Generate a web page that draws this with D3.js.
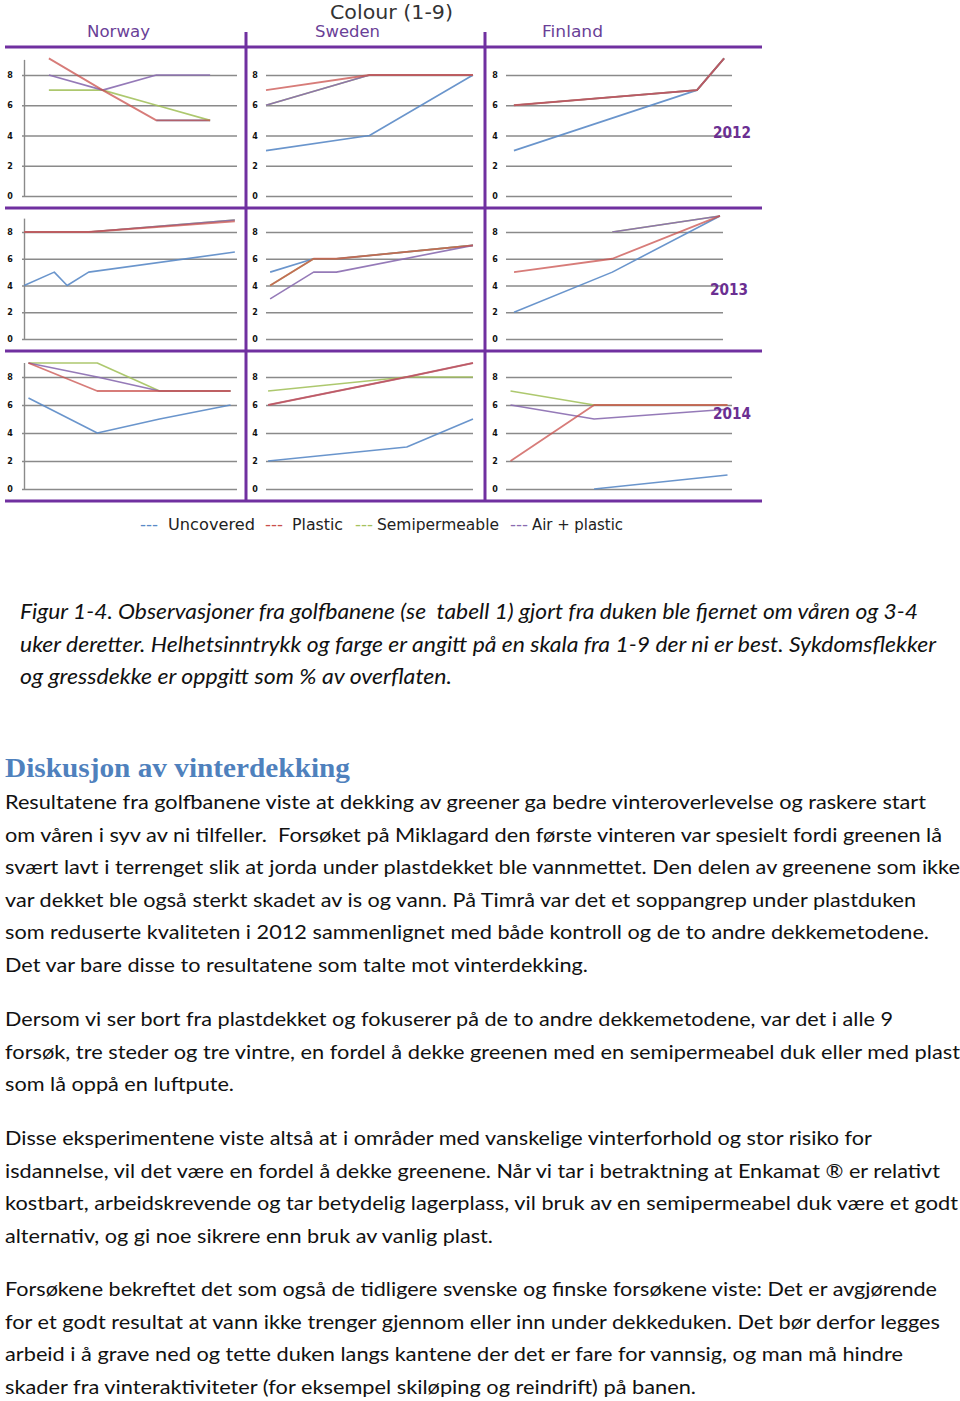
<!DOCTYPE html>
<html><head><meta charset="utf-8">
<script src="https://cdn.jsdelivr.net/npm/d3@7"></script>
<style>body{margin:0;background:#fff}svg{display:block}</style>
</head><body><svg id="c" width="960" height="1401"></svg>
<script>
// ---------------- DATA ----------------
const countries = ["Norway", "Sweden", "Finland"];
const years = ["2012", "2013", "2014"];
const seriesNames = ["Uncovered", "Plastic", "Semipermeable", "Air + plastic"];
const yTicks = [0, 2, 4, 6, 8];
const chartTitle = "Colour (1-9)";
// observation times (relative position in the season, 0-100) per [year][country]
const obsTimes = [
  [[12.5, 37.5, 62.5, 87.5], [0, 50, 100], [3.5, 84.5, 96.5]],
  [[1, 15, 21, 31, 99], [2, 23, 34, 100], [3.7, 49, 98.6]],
  [[3, 35, 64, 97], [1, 68, 100], [2, 39, 98]]
];
const uncovered = [
  [[null, null, 5, 5], [3, 4, 8], [3, 7, 9.1]],
  [[4, 5, 4, 5, 6.5], [5, 6, 6, 7], [2, 5, 9.2]],
  [[6.5, 4, 5, 6], [2, 3, 5], [null, 0, 1]]
];
const plastic = [
  [[9.1, 7, 5, 5], [7, 8, 8], [6, 7, 9.1]],
  [[8, 8, 8, 8, 8.8], [4, 6, 6, 7], [5, 6, 9.2]],
  [[9, 7, 7, 7], [6, 8, 9], [2, 6, 6]]
];
const semipermeable = [
  [[7, 7, 6, 5], [6, 8, 8], [6, 7, 9.1]],
  [[8, 8, 8, 8, 8.9], [4, 6, 6, 7], [null, 8, 9.2]],
  [[9, 9, 7, 7], [7, 8, 8], [7, 6, 6]]
];
const airPlastic = [
  [[8, 7, 8, 8], [6, 8, 8], [6, 7, 9.1]],
  [[8, 8, 8, 8, 8.9], [3, 5, 5, 7], [null, 8, 9.2]],
  [[9, 8, 7, 7], [6, 8, 9], [6, 5, 5.7]]
];
const captionLines = [
  "Figur 1-4. Observasjoner fra golfbanene (se  tabell 1) gjort fra duken ble fjernet om våren og 3-4",
  "uker deretter. Helhetsinntrykk og farge er angitt på en skala fra 1-9 der ni er best. Sykdomsflekker",
  "og gressdekke er oppgitt som % av overflaten."
];
const heading = "Diskusjon av vinterdekking";
const bodyParagraphs = [
  ["Resultatene fra golfbanene viste at dekking av greener ga bedre vinteroverlevelse og raskere start",
   "om våren i syv av ni tilfeller.  Forsøket på Miklagard den første vinteren var spesielt fordi greenen lå",
   "svært lavt i terrenget slik at jorda under plastdekket ble vannmettet. Den delen av greenene som ikke",
   "var dekket ble også sterkt skadet av is og vann. På Timrå var det et soppangrep under plastduken",
   "som reduserte kvaliteten i 2012 sammenlignet med både kontroll og de to andre dekkemetodene.",
   "Det var bare disse to resultatene som talte mot vinterdekking."],
  ["Dersom vi ser bort fra plastdekket og fokuserer på de to andre dekkemetodene, var det i alle 9",
   "forsøk, tre steder og tre vintre, en fordel å dekke greenen med en semipermeabel duk eller med plast",
   "som lå oppå en luftpute."],
  ["Disse eksperimentene viste altså at i områder med vanskelige vinterforhold og stor risiko for",
   "isdannelse, vil det være en fordel å dekke greenene. Når vi tar i betraktning at Enkamat ® er relativt",
   "kostbart, arbeidskrevende og tar betydelig lagerplass, vil bruk av en semipermeabel duk være et godt",
   "alternativ, og gi noe sikrere enn bruk av vanlig plast."],
  ["Forsøkene bekreftet det som også de tidligere svenske og finske forsøkene viste: Det er avgjørende",
   "for et godt resultat at vann ikke trenger gjennom eller inn under dekkeduken. Det bør derfor legges",
   "arbeid i å grave ned og tette duken langs kantene der det er fare for vannsig, og man må hindre",
   "skader fra vinteraktiviteter (for eksempel skiløping og reindrift) på banen."]
];

// ---------------- LAYOUT ----------------
const svg = d3.select("#c");
const purple = "#7030A0";
const seriesColors = ["#5A8AC6", "#C9504C", "#A4C25E", "#8A6BB0"];
const allSeries = [uncovered, plastic, semipermeable, airPlastic];
const drawOrder = [0, 2, 3, 1];

const cols = [
  {x0: 22, x1: 237, lab: 10, axis: true},
  {x0: 266, x1: 473, lab: 255, axis: false},
  {x0: 506, x1: 732, lab: 495, axis: false}
];
const rows = [
  {y0: 196, y8: 75},
  {y0: 339, y8: 232},
  {y0: 489, y8: 377}
];

years.forEach((yr, ri) => {
  countries.forEach((ct, ci) => {
    const c = cols[ci], r = rows[ri];
    const x1 = (ri === 1 && ci === 2) ? 723 : c.x1;
    const x = d3.scaleLinear().domain([0, 100]).range([c.x0, x1]);
    const y = d3.scaleLinear().domain([0, 8]).range([r.y0, r.y8]);
    const g = svg.append("g");
    const ax = d3.axisLeft(y).tickValues(yTicks).tickSize(-(x1 - c.x0)).tickFormat(d3.format("d"));
    const ga = g.append("g").attr("transform", `translate(${c.x0},0)`).call(ax);
    ga.select(".domain").remove();
    ga.selectAll(".tick line").attr("stroke", "#8a8a8a").attr("stroke-width", 1.4);
    ga.selectAll(".tick text").attr("x", c.lab - c.x0).attr("text-anchor", "middle")
      .attr("font-family", "DejaVu Sans").attr("font-weight", "bold").attr("font-size", 8)
      .attr("fill", "#111");
    if (c.axis) {
      g.append("line").attr("x1", c.x0 + 2.5).attr("x2", c.x0 + 2.5)
        .attr("y1", y(0)).attr("y2", y(9)).attr("stroke", "#8a8a8a").attr("stroke-width", 1.4);
    }
    const t = obsTimes[ri][ci];
    drawOrder.forEach(si => {
      const vals = allSeries[si][ri][ci];
      const pts = vals.map((v, i) => ({t: t[i], v}));
      const line = d3.line().defined(d => d.v != null).x(d => x(d.t)).y(d => y(d.v));
      g.append("path").datum(pts).attr("d", line).attr("fill", "none")
        .attr("stroke", seriesColors[si]).attr("stroke-width", si === 1 ? 1.8 : 1.6)
        .attr("stroke-opacity", si === 1 ? 0.75 : 0.9)
        .attr("stroke-linejoin", "round");
    });
  });
});

// purple frame lines
const hLines = [47, 208, 351, 501];
hLines.forEach(yy => svg.append("line").attr("x1", 5).attr("x2", 762).attr("y1", yy).attr("y2", yy)
  .attr("stroke", purple).attr("stroke-width", 3));
[246, 485].forEach(xx => svg.append("line").attr("x1", xx).attr("x2", xx).attr("y1", 32).attr("y2", 502)
  .attr("stroke", purple).attr("stroke-width", 3));

function txt(s, x, yb, opts) {
  const t = svg.append("text").attr("x", x).attr("y", yb).text(s)
    .attr("font-family", opts.family).attr("font-size", opts.size)
    .attr("fill", opts.fill || "#000")
    .style("white-space", "pre").attr("xml:space", "preserve");
  if (opts.weight) t.attr("font-weight", opts.weight);
  if (opts.style) t.attr("font-style", opts.style);
  if (opts.width) t.attr("textLength", opts.width).attr("lengthAdjust", "spacingAndGlyphs");
  return t;
}

// titles
txt(chartTitle, 330, 19, {family: "DejaVu Sans", size: 19, fill: "#333", width: 123});
const countryPos = [[87, 63], [315, 65], [542, 61]];
countries.forEach((ct, i) => txt(ct, countryPos[i][0], 37, {family: "DejaVu Sans", size: 15, fill: "#6A3F97", width: countryPos[i][1]}));
const yearPos = [[713, 138], [710, 295], [713, 419]];
years.forEach((yr, i) => txt(yr, yearPos[i][0], yearPos[i][1], {family: "DejaVu Sans", size: 15, weight: "bold", fill: "#6B2F92", width: 38}));

// legend
const legendPos = [[140, 168, 87], [265, 292, 51], [355, 377, 122], [510, 532, 91]];
seriesNames.forEach((s, i) => {
  txt("---", legendPos[i][0], 530, {family: "DejaVu Sans", size: 15, fill: seriesColors[i], width: 18});
  txt(s, legendPos[i][1], 530, {family: "DejaVu Sans", size: 15, fill: "#222", width: legendPos[i][2]});
});

// caption
const capEnds = [918, 936, 452];
captionLines.forEach((l, i) => txt(l, 20, 619 + i * 32.5, {family: "Lato", size: 20.5, style: "italic", fill: "#111", width: capEnds[i] - 20}));

// heading
txt(heading, 5, 777, {family: "Liberation Serif", size: 28, weight: "bold", fill: "#4F81BD", width: 345});

// body
const bodyEnds = [[926, 942, 960, 916, 929, 588], [893, 960, 234], [872, 940, 958, 493], [937, 940, 903, 696]];
const paraStart = [809, 1026, 1145, 1296];
bodyParagraphs.forEach((p, pi) => {
  p.forEach((l, li) => txt(l, 5, paraStart[pi] + li * 32.5, {family: "Lato", size: 20, fill: "#111", width: bodyEnds[pi][li] - 5}));
});
</script></body></html>
